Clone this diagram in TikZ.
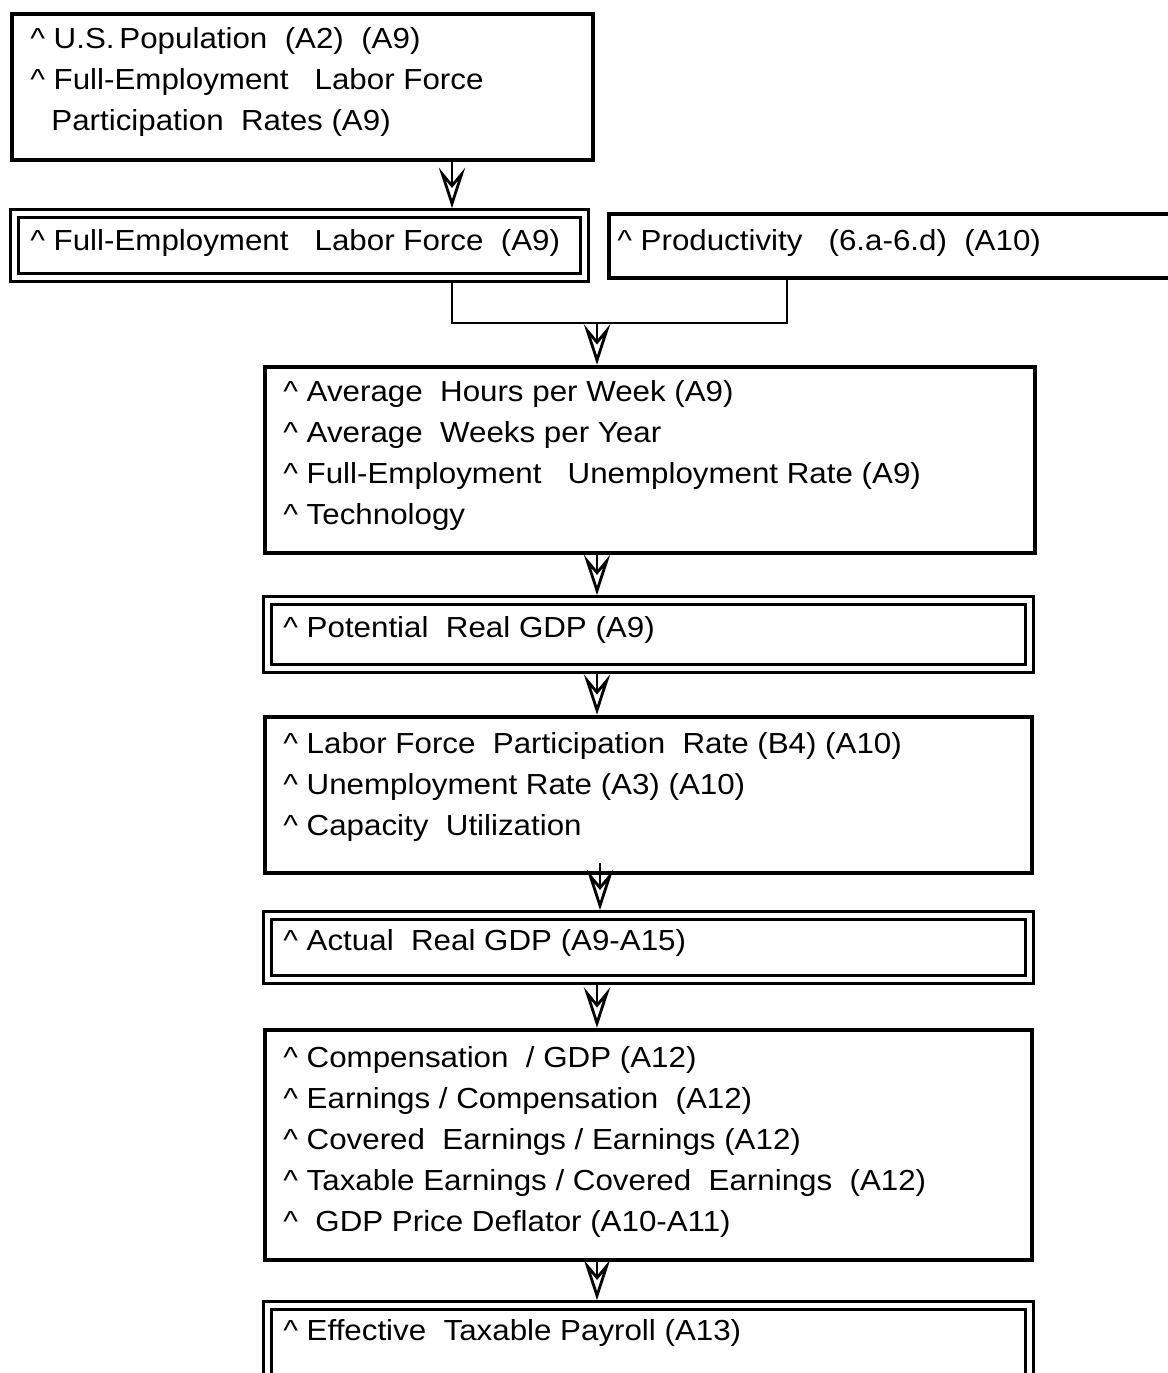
\documentclass[tikz,border=0pt]{standalone}
\usepackage{fontspec}
\setmainfont[FakeStretch=1.08]{Liberation Sans}
\usetikzlibrary{arrows.meta,positioning,calc,fit}
\newcommand{\hatmark}{\textasciicircum}

\begin{document}
\begin{tikzpicture}[
      x=0.02cm, y=-0.02cm,
      thickbox/.style={rectangle, draw, line width=2.6pt, inner sep=0pt},
      dblbox/.style={rectangle, draw, double, line width=1.9pt, double distance=2.3pt, inner sep=0pt, outer sep=3.05pt},
      boxtext/.style={anchor=base west, align=left, inner sep=0pt, font=\fontsize{16.5pt}{23.3pt}\selectfont},
      joinline/.style={line width=1.2pt},
      flowarr/.style={-{Stealth[open, length=23pt, width=15pt, inset=9pt, line width=1.6pt]}, line width=1.3pt}
    ]
      \useasboundingbox (0,0) rectangle (1168,1373);

      % boxes
      \node[thickbox, fit={(12,14) (593,160)}] (pop) {};
      \node[dblbox, fit={(14.5,213.5) (584.5,277.5)}] (fel) {};
      \node[thickbox, fit={(609,214) (1190,278)}] (prod) {};
      \node[thickbox, fit={(265,367) (1035,553)}] (hours) {};
      \node[dblbox, fit={(267.5,600.5) (1029.5,668.5)}] (pot) {};
      \node[thickbox, fit={(265,717) (1032,873)}] (lab) {};
      \node[dblbox, fit={(267.5,915.5) (1029.5,979.5)}] (act) {};
      \node[thickbox, fit={(265,1030) (1032,1260)}] (comp) {};
      \node[dblbox, fit={(267.5,1305.5) (1029.5,1410)}] (eff) {};

      % texts (anchored at the baseline of the last line)
      \node[boxtext] (pop-txt) at (30,130) {\hatmark{} U.S.\,Population~ (A2)~ (A9)\\
        \hatmark{} Full-Employment~~ Labor Force\\
        \hspace*{30\pgflinewidth}Participation~ Rates (A9)};
      \node[boxtext] (fel-txt) at (30,250) {\hatmark{} Full-Employment~~ Labor Force~ (A9)};
      \node[boxtext] (prod-txt) at (617,250) {\hatmark{} Productivity~~ (6.a-6.d)~ (A10)};
      \node[boxtext] (hours-txt) at (283,524) {\hatmark{} Average~ Hours per Week (A9)\\
        \hatmark{} Average~ Weeks per Year\\
        \hatmark{} Full-Employment~~ Unemployment Rate (A9)\\
        \hatmark{} Technology};
      \node[boxtext] (pot-txt) at (283,637) {\hatmark{} Potential~ Real GDP (A9)};
      \node[boxtext] (lab-txt) at (283,835) {\hatmark{} Labor Force~ Participation~ Rate (B4) (A10)\\
        \hatmark{} Unemployment Rate (A3) (A10)\\
        \hatmark{} Capacity~ Utilization};
      \node[boxtext] (act-txt) at (283,950) {\hatmark{} Actual~ Real GDP (A9-A15)};
      \node[boxtext] (comp-txt) at (283,1231) {\hatmark{} Compensation~ / GDP (A12)\\
        \hatmark{} Earnings / Compensation~ (A12)\\
        \hatmark{} Covered~ Earnings / Earnings (A12)\\
        \hatmark{} Taxable Earnings / Covered~ Earnings~ (A12)\\
        \hatmark{}~ GDP Price Deflator (A10-A11)};
      \node[boxtext] (eff-txt) at (283,1340) {\hatmark{} Effective~ Taxable Payroll (A13)};

      % connectors
      \coordinate (drop) at (452,323);
      \coordinate (rise) at (787,323);
      \coordinate (spine) at (597,323);
      \coordinate (kink) at (600,863);

      \draw[flowarr] (drop |- pop.south) -- (drop |- fel.north);
      \draw[joinline] (drop |- fel.south) -- (drop) -- (rise) -- (rise |- prod.south);
      \draw[flowarr] (spine) -- (spine |- hours.north);
      \draw[flowarr] (spine |- hours.south) -- (spine |- pot.north);
      \draw[flowarr] (spine |- pot.south) -- (spine |- lab.north);
      \draw[flowarr] (kink) -- (kink |- act.north);
      \draw[flowarr] (spine |- act.south) -- (spine |- comp.north);
      \draw[flowarr] (spine |- comp.south) -- (spine |- eff.north);
    \end{tikzpicture}
\end{document}
